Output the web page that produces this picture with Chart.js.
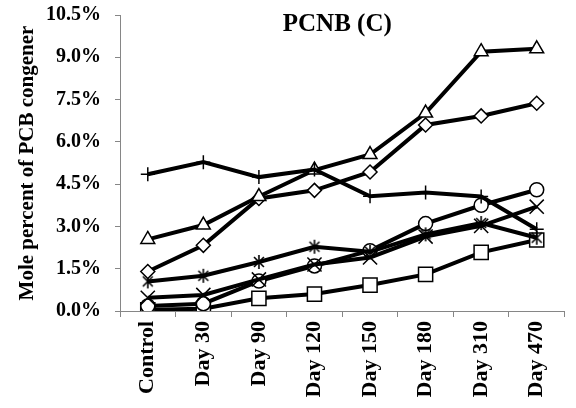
<!DOCTYPE html>
<html>
<head>
<meta charset="utf-8">
<script src="https://cdn.jsdelivr.net/npm/chart.js@4.4.1/dist/chart.umd.min.js"></script>
<style>
  html, body { margin: 0; padding: 0; background: #fff; }
  #wrap { width: 576px; height: 408px; position: relative; }
</style>
</head>
<body>
<div id="wrap"><canvas id="pcnbChart" width="576" height="408"></canvas></div>
<script>
// sampling days
const days = ["Control", "Day 30", "Day 90", "Day 120", "Day 150", "Day 180", "Day 310", "Day 470"];

// mole percent per congener (one array per marker)
const plusSeries     = [4.85, 5.28, 4.75, 5.02, 4.07, 4.20, 4.06, 2.90];
const triangleSeries = [2.54, 3.05, 4.06, 5.00, 5.55, 7.02, 9.20, 9.30];
const diamondSeries  = [1.40, 2.33, 3.99, 4.28, 4.93, 6.60, 6.92, 7.37];
const starSeries     = [1.05, 1.25, 1.74, 2.28, 2.10, 2.72, 3.12, 2.60];
const crossSeries    = [0.47, 0.57, 1.12, 1.65, 1.90, 2.64, 3.02, 3.70];
const circleSeries   = [0.18, 0.26, 1.06, 1.60, 2.14, 3.10, 3.75, 4.30];
const squareSeries   = [0.04, 0.08, 0.45, 0.60, 0.92, 1.30, 2.08, 2.52];

const yMax = 10.5;
const yStep = 1.5;

const serif = "'Liberation Serif', 'Times New Roman', serif";

// asterisk marker: vertical bar plus two diagonals
function asteriskMarker(size) {
  const c = document.createElement("canvas");
  c.width = size; c.height = size;
  const g = c.getContext("2d");
  const m = size / 2, r = size / 2 - 1;
  g.strokeStyle = "#000";
  g.lineWidth = 1.6;
  g.beginPath();
  g.moveTo(m, m - r); g.lineTo(m, m + r);
  const d = r * Math.SQRT1_2;
  g.moveTo(m - d, m - d); g.lineTo(m + d, m + d);
  g.moveTo(m - d, m + d); g.lineTo(m + d, m - d);
  g.stroke();
  return c;
}

function series(data, style, radius) {
  return {
    data: data,
    borderColor: "#000",
    borderWidth: 4,
    tension: 0,
    pointStyle: style,
    pointRadius: radius,
    pointBackgroundColor: "#fff",
    pointBorderColor: "#000",
    pointBorderWidth: 1.5
  };
}

// title sits inside the plot area
const innerTitle = {
  id: "innerTitle",
  afterDraw(chart) {
    const { ctx, chartArea } = chart;
    ctx.save();
    ctx.font = "bold 25px " + serif;
    ctx.fillStyle = "#000";
    ctx.textAlign = "center";
    ctx.textBaseline = "middle";
    ctx.fillText("PCNB (C)", (chartArea.left + chartArea.right) / 2 - 5, 25);
    ctx.restore();
  }
};

new Chart(document.getElementById("pcnbChart"), {
  type: "line",
  data: {
    labels: days,
    datasets: [
      series(plusSeries, "cross", 7),
      series(triangleSeries, "triangle", 8),
      series(diamondSeries, "rectRot", 7),
      series(starSeries, asteriskMarker(16), 8),
      series(crossSeries, "crossRot", 10),
      series(circleSeries, "circle", 7),
      series(squareSeries, "rect", 10)
    ]
  },
  options: {
    responsive: false,
    animation: false,
    layout: { padding: 0 },
    plugins: {
      legend: { display: false },
      tooltip: { enabled: false }
    },
    scales: {
      x: {
        offset: true,
        afterFit(scale) {
          scale.height = 97;
          scale.paddingRight = 8;
        },
        grid: {
          offset: true,
          drawOnChartArea: false,
          color: "#868686",
          tickLength: 6
        },
        border: { color: "#868686", width: 1 },
        ticks: {
          autoSkip: false,
          maxRotation: 90,
          minRotation: 90,
          padding: 4,
          color: "#000",
          font: { family: serif, size: 22, weight: "bold" }
        }
      },
      y: {
        min: 0,
        max: yMax,
        afterFit(scale) {
          scale.width = 120;
          scale.paddingTop = 15;
        },
        grid: {
          drawOnChartArea: false,
          color: "#868686",
          tickLength: 5
        },
        border: { color: "#868686", width: 1 },
        ticks: {
          stepSize: yStep,
          padding: 14,
          color: "#000",
          font: { family: serif, size: 20, weight: "bold" },
          callback: v => v.toFixed(1) + "%"
        },
        title: {
          display: true,
          text: "Mole percent of PCB congener",
          color: "#000",
          padding: { top: 15, bottom: 0 },
          font: { family: serif, size: 21, weight: "bold" }
        }
      }
    }
  },
  plugins: [innerTitle]
});
</script>
</body>
</html>
